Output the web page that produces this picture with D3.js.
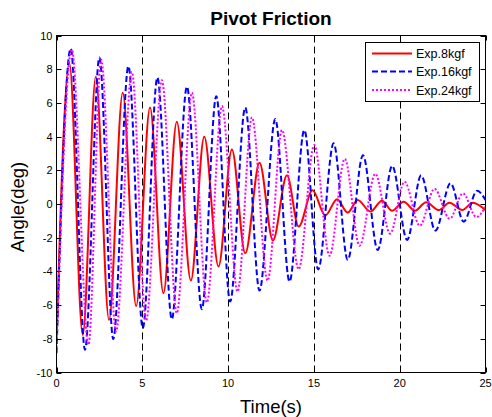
<!DOCTYPE html>
<html>
<head>
<meta charset="utf-8">
<script src="https://cdn.jsdelivr.net/npm/d3@7"></script>
<style>
html,body{margin:0;padding:0;background:#fff;}
svg{display:block;}
text{font-family:"Liberation Sans",Arial,sans-serif;fill:#000;}
</style>
</head>
<body>
<svg id="chart" width="492" height="417"></svg>
<script>
// ---- data (extrema of each oscillation) ----
const seriesNames = ["Exp.8kgf", "Exp.16kgf", "Exp.24kgf"];

const timeRed = [0,0.75,1.53,2.29,3.06,3.86,4.64,5.45,6.23,7.01,7.83,8.61,9.44,10.22,11.0,11.83,12.61,13.43,14.11,14.92,15.66,16.35,16.97,17.55,18.29,18.97,19.56,20.23,20.88,21.54,22.28,22.9,23.64,24.26,25];
const angleRed = [-8.1,8.35,-7.77,7.55,-6.88,6.6,-6.05,5.73,-5.3,4.88,-4.54,3.99,-3.71,3.24,-2.93,2.45,-2.17,1.7,-1.34,0.81,-0.68,0.28,-0.51,0.24,-0.45,0.2,-0.4,0.14,-0.4,0.1,-0.36,0.08,-0.36,0.08,-0.36];

const timeBlue = [0,0.83,1.66,2.5,3.31,4.19,5.03,5.88,6.72,7.6,8.47,9.31,10.12,11.0,11.83,12.75,13.58,14.44,15.25,16.15,16.97,17.86,18.72,19.56,20.43,21.25,22.08,22.96,23.73,24.51,25];
const angleBlue = [-8.85,9.23,-8.65,8.7,-8.02,8.18,-7.37,7.51,-6.84,6.96,-6.24,6.4,-5.79,5.73,-5.14,5.04,-4.61,4.39,-3.88,3.6,-3.32,2.9,-2.73,2.27,-2.13,1.7,-1.58,1.23,-1.05,0.79,0.24];

const timeMag = [0,0.89,1.86,2.6,3.47,4.39,5.22,6.14,7.01,7.89,8.76,9.64,10.55,11.39,12.3,13.14,14.11,15.02,15.91,16.8,17.66,18.58,19.44,20.28,21.17,22.03,22.91,23.69,24.46,25];
const angleMag = [-8.5,9.17,-8.36,8.58,-7.57,7.84,-6.92,7.35,-6.48,6.6,-5.85,5.81,-5.2,5.14,-4.55,4.39,-3.87,3.5,-3.07,2.68,-2.48,1.79,-1.76,1.32,-1.29,0.9,-0.88,0.63,-0.77,-0.16];

const xTicks = [0,5,10,15,20,25];
const yTicks = [-10,-8,-6,-4,-2,0,2,4,6,8,10];
const gridX = [5,10,15,20];

// ---- layout ----
const svg = d3.select("#chart");
const L = 56.5, R = 485.5, T = 35.5, B = 372.5;
const x = d3.scaleLinear().domain([0,25]).range([L,R]);
const y = d3.scaleLinear().domain([-10,10]).range([B,T]);

// vertical dashed lines
svg.append("g").selectAll("line").data(gridX).join("line")
  .attr("x1",d=>Math.round(x(d))+0.5).attr("x2",d=>Math.round(x(d))+0.5)
  .attr("y1",T).attr("y2",B)
  .attr("stroke","#000").attr("stroke-width",1).attr("stroke-dasharray","7,4");

// series
const series = [
  {t:timeRed, v:angleRed, color:"#ff0000", dash:null},
  {t:timeBlue, v:angleBlue, color:"#0000ff", dash:"6,3"},
  {t:timeMag, v:angleMag, color:"#ff00ff", dash:"2,2"}
];
const line = d3.line().x(d=>x(d[0])).y(d=>y(d[1])).curve(d3.curveMonotoneX);
svg.append("clipPath").attr("id","clip").append("rect")
  .attr("x",L).attr("y",T).attr("width",R-L).attr("height",B-T);
const gLines = svg.append("g").attr("clip-path","url(#clip)");
series.forEach(s=>{
  const pts = s.t.map((t,i)=>[t,s.v[i]]);
  gLines.append("path").datum(pts)
    .attr("d",line).attr("fill","none")
    .attr("stroke",s.color).attr("stroke-width",2)
    .attr("stroke-dasharray",s.dash);
});

// axes (MATLAB style, ticks inward, box)
const tickLen = 5;
const ax = svg.append("g").attr("fill","none");
ax.append("rect").attr("x",L).attr("y",T).attr("width",R-L).attr("height",B-T)
  .attr("stroke","#000").attr("stroke-width",1);
xTicks.forEach(d=>{
  const px = Math.round(x(d))+0.5;
  ax.append("line").attr("x1",px).attr("x2",px).attr("y1",B).attr("y2",B-tickLen).attr("stroke","#000");
  ax.append("line").attr("x1",px).attr("x2",px).attr("y1",T).attr("y2",T+tickLen).attr("stroke","#000");
});
yTicks.forEach(d=>{
  const py = Math.round(y(d))+0.5;
  ax.append("line").attr("x1",L).attr("x2",L+tickLen).attr("y1",py).attr("y2",py).attr("stroke","#000");
  ax.append("line").attr("x1",R).attr("x2",R-tickLen).attr("y1",py).attr("y2",py).attr("stroke","#000");
});

svg.append("g").selectAll("text").data(xTicks).join("text")
  .attr("x",d=>x(d)).attr("y",B+14.5).attr("text-anchor","middle")
  .attr("font-size","11px").text(d=>d);
svg.append("g").selectAll("text").data(yTicks).join("text")
  .attr("x",L-4).attr("y",d=>y(d)+4).attr("text-anchor","end")
  .attr("font-size","11px").text(d=>d);

// labels
svg.append("text").attr("x",(L+R)/2).attr("y",25).attr("text-anchor","middle")
  .attr("font-size","19px").attr("font-weight","bold").text("Pivot Friction");
svg.append("text").attr("x",(L+R)/2).attr("y",412.5).attr("text-anchor","middle")
  .attr("font-size","18.5px").text("Time(s)");
svg.append("text").attr("transform","translate(24,207) rotate(-90)").attr("text-anchor","middle")
  .attr("font-size","18.5px").text("Angle(deg)");

// legend
const lg = svg.append("g");
lg.append("rect").attr("x",365.5).attr("y",42.5).attr("width",114).attr("height",59)
  .attr("fill","#fff").attr("stroke","#000").attr("stroke-width",1);
const rowY = [53.5,71.5,90];
series.forEach((s,i)=>{
  lg.append("line").attr("x1",372).attr("x2",412).attr("y1",rowY[i]).attr("y2",rowY[i])
    .attr("stroke",s.color).attr("stroke-width",2).attr("stroke-dasharray",s.dash);
  lg.append("text").attr("x",416).attr("y",rowY[i]+4.5).attr("font-size","12.5px").text(seriesNames[i]);
});
</script>
</body>
</html>
